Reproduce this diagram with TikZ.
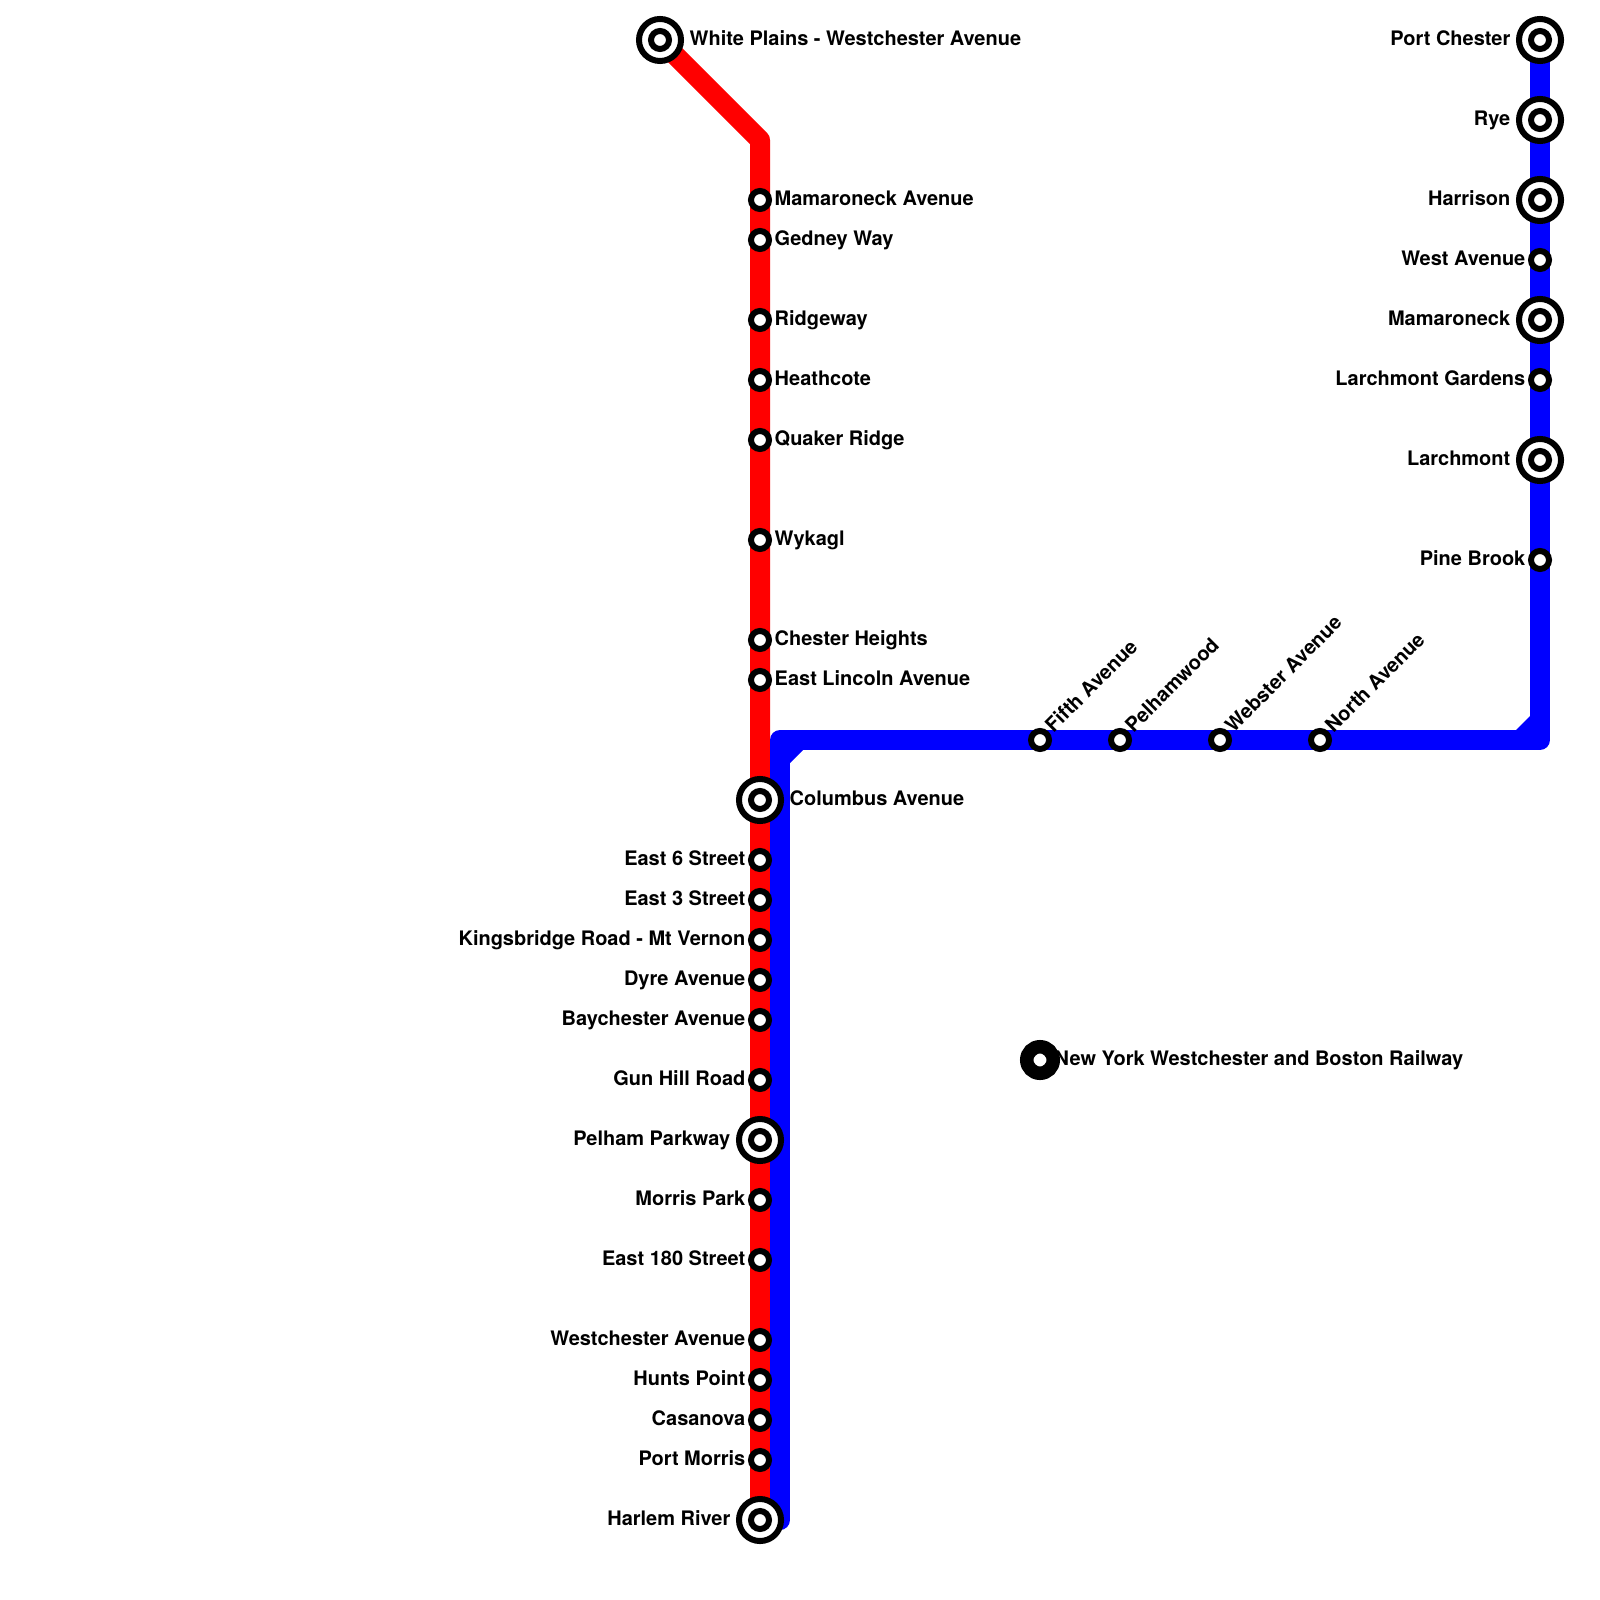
\documentclass[tikz,border=0pt]{standalone}
\usepackage{fontspec}
\setmainfont{TeX Gyre Heros}
\usepackage{xcolor}
\definecolor{redline}{RGB}{255, 0, 0}
\definecolor{blueline}{RGB}{0, 0, 255}
\tikzset{
  stopmark/.style={circle,draw=black,fill=white,line width=0.6mm,minimum size=1.8mm,inner sep=0pt},
  hubmark/.style={stopmark,minimum size=4.2mm,path picture={
    \draw[black,fill=white,line width=0.6mm] (path picture bounding box.center) circle (0.9mm);}},
  keymark/.style={circle,draw=black,fill=white,line width=1.35mm,minimum size=2.65mm,inner sep=0pt},
  track/.style={line width=2mm,line cap=round,line join=round},
  txt/.style={font=\fontsize{5.68pt}{7pt}\selectfont\bfseries,inner sep=0pt},
  rlbl/.style={txt,anchor=base west,xshift=1.4mm,yshift=-0.55mm},
  llbl/.style={txt,anchor=base east,xshift=-1.4mm,yshift=-0.55mm},
  rhub/.style={txt,anchor=base west,xshift=2.9mm,yshift=-0.55mm},
  lhub/.style={txt,anchor=base east,xshift=-2.9mm,yshift=-0.55mm},
  dlbl/.style={txt,anchor=base west,xshift=1.3mm,yshift=0.6mm,rotate=45},
}
\begin{document}
\begin{tikzpicture}[x=0.2843pt,y=-0.2843pt]
\useasboundingbox (0,0) rectangle (1600,1600);
\coordinate (rtop) at (660,40);
\coordinate (rbend) at (760,140);
\coordinate (rend) at (760,1520);
\coordinate (bend) at (780,1520);
\coordinate (bturn) at (780,740);
\coordinate (bright) at (1540,740);
\coordinate (btop) at (1540,40);
\draw[redline,track] (rtop) -- (rbend) -- (rend);
\draw[blueline,track] (bend) -- (bturn) -- (bright) -- (btop);
\fill[blueline] (790,750) -- (803,750) -- (790,763) -- cycle;
\fill[blueline] (1530,730) -- (1516,730) -- (1530,716) -- cycle;
% red line, north of the junction
\node[hubmark] (wp) at (660,40) {};
\node[rhub] (wpt) at (wp) {White Plains - Westchester Avenue};
\node[stopmark] (mav) at (760,200) {};
\node[rlbl] (mavt) at (mav) {Mamaroneck Avenue};
\node[stopmark] (ged) at (760,240) {};
\node[rlbl] (gedt) at (ged) {Gedney Way};
\node[stopmark] (rid) at (760,320) {};
\node[rlbl] (ridt) at (rid) {Ridgeway};
\node[stopmark] (hea) at (760,380) {};
\node[rlbl] (heat) at (hea) {Heathcote};
\node[stopmark] (qua) at (760,440) {};
\node[rlbl] (quat) at (qua) {Quaker Ridge};
\node[stopmark] (wyk) at (760,540) {};
\node[rlbl] (wykt) at (wyk) {Wykagl};
\node[stopmark] (che) at (760,640) {};
\node[rlbl] (chet) at (che) {Chester Heights};
\node[stopmark] (lin) at (760,680) {};
\node[rlbl] (lint) at (lin) {East Lincoln Avenue};
\node[hubmark] (col) at (760,800) {};
\node[rhub] (colt) at (col) {Columbus Avenue};
% shared trunk, south of the junction
\node[stopmark] (es6) at (760,860) {};
\node[llbl] (es6t) at (es6) {East 6 Street};
\node[stopmark] (es3) at (760,900) {};
\node[llbl] (es3t) at (es3) {East 3 Street};
\node[stopmark] (kin) at (760,940) {};
\node[llbl] (kint) at (kin) {Kingsbridge Road - Mt Vernon};
\node[stopmark] (dyr) at (760,980) {};
\node[llbl] (dyrt) at (dyr) {Dyre Avenue};
\node[stopmark] (bay) at (760,1020) {};
\node[llbl] (bayt) at (bay) {Baychester Avenue};
\node[stopmark] (gun) at (760,1080) {};
\node[llbl] (gunt) at (gun) {Gun Hill Road};
\node[hubmark] (pel) at (760,1140) {};
\node[lhub] (pelt) at (pel) {Pelham Parkway};
\node[stopmark] (mor) at (760,1200) {};
\node[llbl] (mort) at (mor) {Morris Park};
\node[stopmark] (e18) at (760,1260) {};
\node[llbl] (e18t) at (e18) {East 180 Street};
\node[stopmark] (wes) at (760,1340) {};
\node[llbl] (west) at (wes) {Westchester Avenue};
\node[stopmark] (hun) at (760,1380) {};
\node[llbl] (hunt) at (hun) {Hunts Point};
\node[stopmark] (cas) at (760,1420) {};
\node[llbl] (cast) at (cas) {Casanova};
\node[stopmark] (pmo) at (760,1460) {};
\node[llbl] (pmot) at (pmo) {Port Morris};
\node[hubmark] (har) at (760,1520) {};
\node[lhub] (hart) at (har) {Harlem River};
% blue line, along the horizontal
\node[stopmark] (fif) at (1040,740) {};
\node[dlbl] (fift) at (fif) {Fifth Avenue};
\node[stopmark] (phw) at (1120,740) {};
\node[dlbl] (phwt) at (phw) {Pelhamwood};
\node[stopmark] (web) at (1220,740) {};
\node[dlbl] (webt) at (web) {Webster Avenue};
\node[stopmark] (nor) at (1320,740) {};
\node[dlbl] (nort) at (nor) {North Avenue};
% blue line, right column
\node[stopmark] (pin) at (1540,560) {};
\node[llbl] (pint) at (pin) {Pine Brook};
\node[hubmark] (lar) at (1540,460) {};
\node[lhub] (lart) at (lar) {Larchmont};
\node[stopmark] (lag) at (1540,380) {};
\node[llbl] (lagt) at (lag) {Larchmont Gardens};
\node[hubmark] (mam) at (1540,320) {};
\node[lhub] (mamt) at (mam) {Mamaroneck};
\node[stopmark] (wav) at (1540,260) {};
\node[llbl] (wavt) at (wav) {West Avenue};
\node[hubmark] (hrr) at (1540,200) {};
\node[lhub] (hrrt) at (hrr) {Harrison};
\node[hubmark] (rye) at (1540,120) {};
\node[lhub] (ryet) at (rye) {Rye};
\node[hubmark] (pch) at (1540,40) {};
\node[lhub] (pcht) at (pch) {Port Chester};
% key
\node[keymark] (key) at (1040,1060) {};
\node[rlbl] (keyt) at (key) {New York Westchester and Boston Railway};
\end{tikzpicture}
\end{document}
